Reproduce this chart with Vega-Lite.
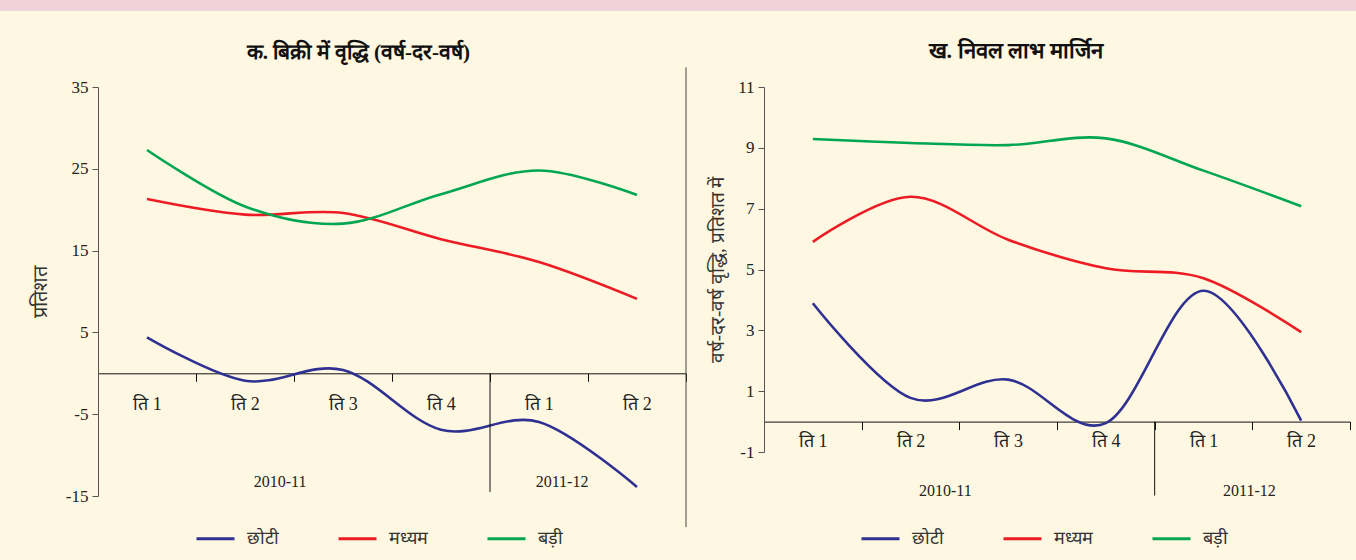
{
  "$schema": "https://vega.github.io/schema/vega-lite/v6.json",
  "background": "#FEF7E1",
  "padding": {"left": 0, "top": 0, "right": 0, "bottom": 14},
  "spacing": 28,
  "config": {
    "font": "Liberation Serif",
    "view": {"stroke": null},
    "axis": {"grid": false, "labelFont": "Liberation Serif", "titleFont": "Liberation Serif"},
    "legend": {"labelFont": "Liberation Serif"},
    "title": {"font": "Liberation Serif"}
  },
  "datasets": {
    "sales": [
      {"q": "2010-11|ति 1", "size": "छोटी", "value": 4.4},
      {"q": "2010-11|ति 2", "size": "छोटी", "value": -0.9},
      {"q": "2010-11|ति 3", "size": "छोटी", "value": 0.4},
      {"q": "2010-11|ति 4", "size": "छोटी", "value": -6.9},
      {"q": "2011-12|ति 1", "size": "छोटी", "value": -5.95},
      {"q": "2011-12|ति 2", "size": "छोटी", "value": -13.9},
      {"q": "2010-11|ति 1", "size": "मध्यम", "value": 21.3},
      {"q": "2010-11|ति 2", "size": "मध्यम", "value": 19.4},
      {"q": "2010-11|ति 3", "size": "मध्यम", "value": 19.6},
      {"q": "2010-11|ति 4", "size": "मध्यम", "value": 16.4},
      {"q": "2011-12|ति 1", "size": "मध्यम", "value": 13.6},
      {"q": "2011-12|ति 2", "size": "मध्यम", "value": 9.1},
      {"q": "2010-11|ति 1", "size": "बड़ी", "value": 27.3},
      {"q": "2010-11|ति 2", "size": "बड़ी", "value": 20.4},
      {"q": "2010-11|ति 3", "size": "बड़ी", "value": 18.3},
      {"q": "2010-11|ति 4", "size": "बड़ी", "value": 21.9},
      {"q": "2011-12|ति 1", "size": "बड़ी", "value": 24.8},
      {"q": "2011-12|ति 2", "size": "बड़ी", "value": 21.8}
    ],
    "margin": [
      {"q": "2010-11|ति 1", "size": "छोटी", "value": 3.89},
      {"q": "2010-11|ति 2", "size": "छोटी", "value": 0.78},
      {"q": "2010-11|ति 3", "size": "छोटी", "value": 1.38},
      {"q": "2010-11|ति 4", "size": "छोटी", "value": -0.05},
      {"q": "2011-12|ति 1", "size": "छोटी", "value": 4.3},
      {"q": "2011-12|ति 2", "size": "छोटी", "value": 0.03},
      {"q": "2010-11|ति 1", "size": "मध्यम", "value": 5.91},
      {"q": "2010-11|ति 2", "size": "मध्यम", "value": 7.39},
      {"q": "2010-11|ति 3", "size": "मध्यम", "value": 5.98},
      {"q": "2010-11|ति 4", "size": "मध्यम", "value": 5.04},
      {"q": "2011-12|ति 1", "size": "मध्यम", "value": 4.71},
      {"q": "2011-12|ति 2", "size": "मध्यम", "value": 2.94},
      {"q": "2010-11|ति 1", "size": "बड़ी", "value": 9.29},
      {"q": "2010-11|ति 2", "size": "बड़ी", "value": 9.16},
      {"q": "2010-11|ति 3", "size": "बड़ी", "value": 9.09},
      {"q": "2010-11|ति 4", "size": "बड़ी", "value": 9.31},
      {"q": "2011-12|ति 1", "size": "बड़ी", "value": 8.25},
      {"q": "2011-12|ति 2", "size": "बड़ी", "value": 7.08}
    ]
  },
  "vconcat": [
    {
      "width": 1356,
      "height": 11,
      "view": {"fill": "#EFD3D8", "stroke": null},
      "data": {"values": [{"a": 0}]},
      "mark": {"type": "point", "opacity": 0},
      "encoding": {}
    },
    {
      "spacing": 21,
      "resolve": {
        "scale": {"x": "independent", "y": "independent", "color": "independent"},
        "legend": {"color": "independent"}
      },
      "hconcat": [
        {
          "width": 9,
          "height": 10,
          "data": {"values": [{"a": 0}]},
          "mark": {"type": "point", "opacity": 0},
          "encoding": {}
        },
        {
          "width": 588,
          "height": 409,
          "title": {"text": "क. बिक्री में वृद्धि (वर्ष-दर-वर्ष)", "fontSize": 21, "fontWeight": "bold", "color": "#111", "anchor": "middle", "frame": "bounds", "offset": 4},
          "layer": [
            {
              "data": {"name": "sales"},
              "mark": {"type": "line", "interpolate": "cardinal", "strokeWidth": 2.6},
              "encoding": {
                "x": {
                  "field": "q", "type": "nominal",
                  "scale": {"type": "band", "domain": ["2010-11|ति 1", "2010-11|ति 2", "2010-11|ति 3", "2010-11|ति 4", "2011-12|ति 1", "2011-12|ति 2"], "paddingInner": 0, "paddingOuter": 0},
                  "axis": {"title": null, "orient": "bottom", "offset": -122.7, "labelExpr": "split(datum.value, '|')[1]", "labelAngle": 0, "tickBand": "extent", "tickSize": 8, "tickColor": "#111", "domainColor": "#111", "labelPadding": 14, "labelFontSize": 18, "labelColor": "#222"}
                },
                "y": {
                  "field": "value", "type": "quantitative",
                  "scale": {"domain": [-15, 35], "nice": false, "zero": false},
                  "axis": {"values": [-15, -5, 5, 15, 25, 35], "labelExpr": "'' + datum.value", "title": "प्रतिशत", "titleFontWeight": "normal", "titleFontSize": 20, "titleColor": "#333", "titlePadding": 15, "domainColor": "#555", "tickColor": "#555", "tickSize": 6, "labelFontSize": 17, "labelColor": "#222", "labelPadding": 4}
                },
                "color": {
                  "field": "size", "type": "nominal",
                  "scale": {"domain": ["छोटी", "मध्यम", "बड़ी"], "range": ["#2E3192", "#ED1C24", "#00A651"]},
                  "legend": {"title": null, "orient": "none", "legendX": 97, "legendY": 431, "direction": "horizontal", "symbolType": "stroke", "symbolSize": 1444, "symbolStrokeWidth": 3, "labelFontSize": 18, "labelColor": "#333", "labelOffset": 11, "columnPadding": 53}
                }
              }
            },
            {
              "data": {"values": [{"q": "2011-12|ति 1"}]},
              "mark": {"type": "rule", "color": "#111", "strokeWidth": 1},
              "encoding": {"x": {"field": "q", "type": "nominal", "bandPosition": 0}, "y": {"datum": 0}, "y2": {"datum": -14.5}}
            },
            {
              "data": {"values": [{"q": "2011-12|ति 2"}]},
              "mark": {"type": "rule", "color": "#444", "strokeWidth": 1},
              "encoding": {"x": {"field": "q", "type": "nominal", "bandPosition": 1}, "y": {"datum": 37.4}, "y2": {"datum": -18.8}}
            },
            {
              "data": {"values": [{"year": "2010-11", "q": "2010-11|ति 2"}]},
              "mark": {"type": "text", "fontSize": 16, "color": "#222", "dx": -14},
              "encoding": {"x": {"field": "q", "type": "nominal", "bandPosition": 1}, "y": {"datum": -13.3}, "text": {"field": "year"}}
            },
            {
              "data": {"values": [{"year": "2011-12", "q": "2011-12|ति 1"}]},
              "mark": {"type": "text", "fontSize": 16, "color": "#222", "dx": -26},
              "encoding": {"x": {"field": "q", "type": "nominal", "bandPosition": 1}, "y": {"datum": -13.3}, "text": {"field": "year"}}
            }
          ]
        },
        {
          "width": 586,
          "height": 365,
          "title": {"text": "ख. निवल लाभ मार्जिन", "fontSize": 22, "fontWeight": "bold", "color": "#111", "anchor": "middle", "frame": "bounds", "offset": 4, "dx": -14},
          "layer": [
            {
              "data": {"name": "margin"},
              "mark": {"type": "line", "interpolate": "cardinal", "strokeWidth": 2.6},
              "encoding": {
                "x": {
                  "field": "q", "type": "nominal",
                  "scale": {"type": "band", "domain": ["2010-11|ति 1", "2010-11|ति 2", "2010-11|ति 3", "2010-11|ति 4", "2011-12|ति 1", "2011-12|ति 2"], "paddingInner": 0, "paddingOuter": 0},
                  "axis": {"title": null, "orient": "bottom", "offset": -30.4, "labelExpr": "split(datum.value, '|')[1]", "labelAngle": 0, "tickBand": "extent", "tickSize": 8, "tickColor": "#111", "domainColor": "#111", "labelPadding": 3, "labelFontSize": 18, "labelColor": "#222"}
                },
                "y": {
                  "field": "value", "type": "quantitative",
                  "scale": {"domain": [-1, 11], "nice": false, "zero": false},
                  "axis": {"values": [-1, 1, 3, 5, 7, 9, 11], "labelExpr": "'' + datum.value", "title": "वर्ष-दर-वर्ष वृद्धि, प्रतिशत में", "titleFontWeight": "normal", "titleFontSize": 19, "titleColor": "#333", "titlePadding": 10, "domainColor": "#555", "tickColor": "#555", "tickSize": 6, "labelFontSize": 17, "labelColor": "#222", "labelPadding": 4}
                },
                "color": {
                  "field": "size", "type": "nominal",
                  "scale": {"domain": ["छोटी", "मध्यम", "बड़ी"], "range": ["#2E3192", "#ED1C24", "#00A651"]},
                  "legend": {"title": null, "orient": "none", "legendX": 96, "legendY": 431, "direction": "horizontal", "symbolType": "stroke", "symbolSize": 1444, "symbolStrokeWidth": 3, "labelFontSize": 18, "labelColor": "#333", "labelOffset": 11, "columnPadding": 53}
                }
              }
            },
            {
              "data": {"values": [{"q": "2010-11|ति 1"}]},
              "mark": {"type": "rule", "strokeOpacity": 0, "strokeWidth": 1},
              "encoding": {"x": {"field": "q", "type": "nominal", "bandPosition": 0}, "y": {"datum": 11.66}, "y2": {"datum": 11}}
            },
            {
              "data": {"values": [{"q": "2011-12|ति 1"}]},
              "mark": {"type": "rule", "color": "#111", "strokeWidth": 1},
              "encoding": {"x": {"field": "q", "type": "nominal", "bandPosition": 0}, "y": {"datum": 0}, "y2": {"datum": -2.43}}
            },
            {
              "data": {"values": [{"year": "2010-11", "q": "2010-11|ति 2"}]},
              "mark": {"type": "text", "fontSize": 16, "color": "#222", "dx": -14},
              "encoding": {"x": {"field": "q", "type": "nominal", "bandPosition": 1}, "y": {"datum": -2.27}, "text": {"field": "year"}}
            },
            {
              "data": {"values": [{"year": "2011-12", "q": "2011-12|ति 1"}]},
              "mark": {"type": "text", "fontSize": 16, "color": "#222", "dx": -3},
              "encoding": {"x": {"field": "q", "type": "nominal", "bandPosition": 1}, "y": {"datum": -2.27}, "text": {"field": "year"}}
            }
          ]
        }
      ]
    }
  ]
}
